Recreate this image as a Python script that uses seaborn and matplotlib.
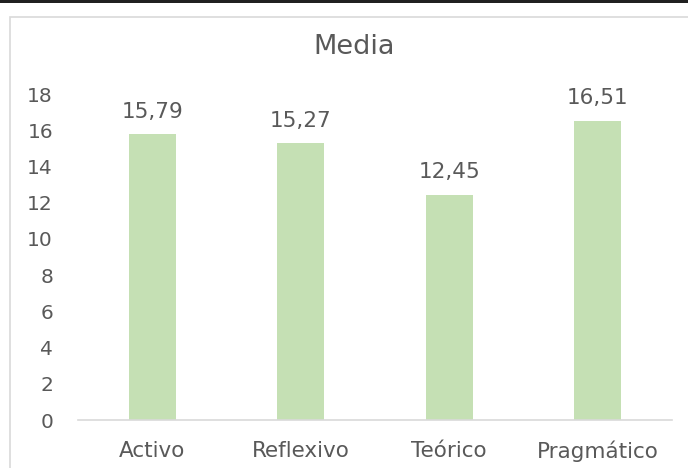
import matplotlib
matplotlib.use("Agg")
import matplotlib.pyplot as plt
import seaborn as sns
import pandas as pd
from matplotlib.patches import Rectangle

estilos = ["Activo", "Reflexivo", "Teórico", "Pragmático"]
medias = [15.79, 15.27, 12.45, 16.51]
yticks = list(range(0, 20, 2))
titulo = "Media"

sns.set_style("white")
plt.rcParams["font.family"] = ["DejaVu Sans"]

gris = "#595959"
df = pd.DataFrame({"estilo": estilos, "media": medias})

fig = plt.figure(figsize=(6.88, 4.68), dpi=100)

# marco del gráfico y borde de tabla superior
fig.patches.append(Rectangle((10 / 688, -0.1), 1.2, 1.1 - 17 / 468,
                             transform=fig.transFigure, facecolor="white",
                             edgecolor="#D9D9D9", linewidth=1.2, zorder=-5))
fig.patches.append(Rectangle((0, 1 - 3 / 468), 1, 3 / 468, transform=fig.transFigure,
                             facecolor="#202020", edgecolor="none", zorder=-4))

ax = fig.add_axes([78 / 688, 1 - 420 / 468, 594 / 688, (420 - 94) / 468])
ax.set_zorder(2)
ax.patch.set_alpha(0)
sns.barplot(data=df, x="estilo", y="media", color="#C5E0B4", saturation=1,
            width=0.315, linewidth=0, ax=ax)

etiquetas = [f"{v:.2f}".replace(".", ",") for v in medias]
ax.bar_label(ax.containers[0], labels=etiquetas, padding=9, color=gris, fontsize=15.5)

ax.set_ylim(0, 18)
ax.set_xlim(-0.5, len(estilos) - 0.5)
ax.set_yticks(yticks)
ax.set_xlabel("")
ax.set_ylabel("")
for s in ["top", "right", "left"]:
    ax.spines[s].set_visible(False)
ax.spines["bottom"].set_color("#D9D9D9")
ax.spines["bottom"].set_linewidth(1.2)
ax.tick_params(axis="y", length=0, pad=18, labelsize=14.5, labelcolor=gris)
ax.tick_params(axis="x", length=0, pad=15, labelsize=15.5, labelcolor=gris)

fig.text(354 / 688, 1 - 47 / 468, titulo, ha="center", va="center", fontsize=19.5,
         color=gris, zorder=3)

fig.savefig("out.png", dpi=100)
